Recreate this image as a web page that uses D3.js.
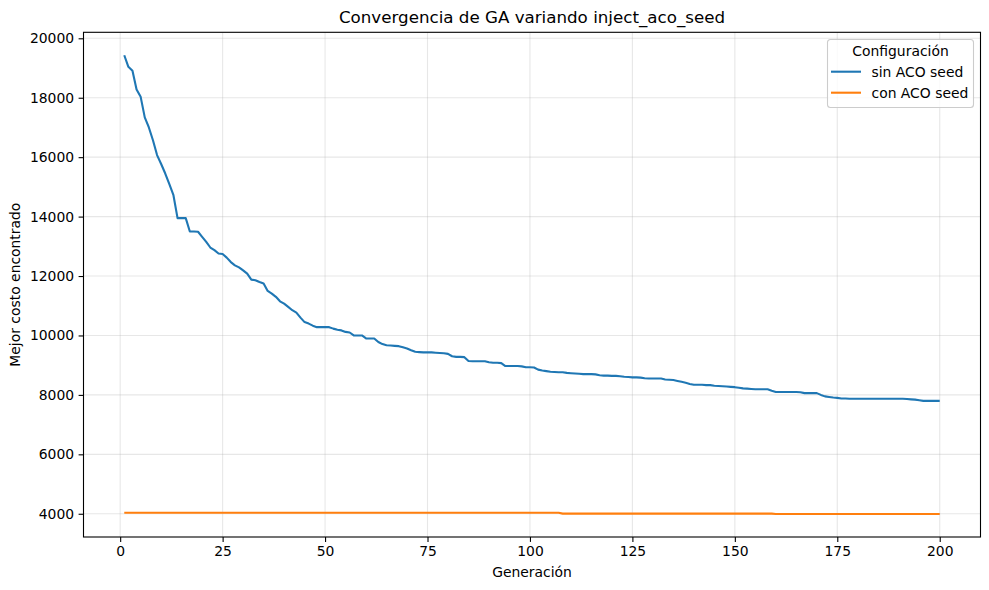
<!DOCTYPE html>
<html>
<head>
<meta charset="utf-8">
<script src="https://cdnjs.cloudflare.com/ajax/libs/d3/7.8.5/d3.min.js"></script>
<style>
    body { margin: 0; background: #fff; }
    svg { font-family: "DejaVu Sans", sans-serif; }
</style>
</head>
<body>
<div id="chart"></div>
<script>
// generations 1..200
var generations = d3.range(1, 201);

// best cost per generation
var sinAcoSeed = [
    19430, 19040, 18910, 18280, 18030, 17340, 17000, 16570, 16070, 15770,
    15450, 15090, 14720, 13950, 13950, 13950, 13500, 13500, 13490, 13320,
    13150, 12960, 12870, 12760, 12740, 12620, 12470, 12360, 12290, 12190,
    12080, 11880, 11860, 11800, 11750, 11500, 11410, 11300, 11150, 11070,
    10960, 10850, 10770, 10600, 10450, 10400, 10330, 10280, 10280, 10280,
    10280, 10230, 10190, 10170, 10120, 10100, 10000, 10000, 10000, 9900,
    9900, 9900, 9780, 9710, 9670, 9660, 9650, 9640, 9600, 9560,
    9500, 9450, 9440, 9430, 9430, 9430, 9420, 9410, 9400, 9380,
    9300, 9280, 9280, 9270, 9140, 9130, 9130, 9130, 9130, 9100,
    9080, 9080, 9070, 8970, 8970, 8970, 8970, 8960, 8930, 8930,
    8920, 8850, 8820, 8800, 8780, 8770, 8760, 8760, 8740, 8730,
    8720, 8710, 8700, 8700, 8700, 8690, 8660, 8650, 8650, 8640,
    8640, 8630, 8610, 8600, 8590, 8590, 8580, 8560, 8550, 8550,
    8550, 8550, 8520, 8510, 8500, 8470, 8440, 8410, 8370, 8340,
    8340, 8340, 8330, 8330, 8310, 8300, 8290, 8280, 8270, 8260,
    8240, 8220, 8210, 8200, 8190, 8190, 8190, 8190, 8140, 8100,
    8100, 8100, 8100, 8100, 8100, 8090, 8060, 8060, 8060, 8060,
    8000, 7950, 7930, 7910, 7900, 7880, 7880, 7870, 7870, 7870,
    7870, 7870, 7870, 7870, 7870, 7870, 7870, 7870, 7870, 7870,
    7870, 7860, 7850, 7840, 7820, 7800, 7800, 7800, 7800, 7800
];

var conAcoSeed = [
    4035, 4035, 4035, 4035, 4035, 4035, 4035, 4035, 4035, 4035,
    4035, 4035, 4035, 4035, 4035, 4035, 4035, 4035, 4035, 4035,
    4035, 4035, 4035, 4035, 4035, 4035, 4035, 4035, 4035, 4035,
    4035, 4035, 4035, 4035, 4035, 4035, 4035, 4035, 4035, 4035,
    4035, 4035, 4035, 4035, 4035, 4035, 4035, 4035, 4035, 4035,
    4035, 4035, 4035, 4035, 4035, 4035, 4035, 4035, 4035, 4035,
    4035, 4035, 4035, 4035, 4035, 4035, 4035, 4035, 4035, 4035,
    4035, 4035, 4035, 4035, 4035, 4035, 4035, 4035, 4035, 4035,
    4035, 4035, 4035, 4035, 4035, 4035, 4035, 4035, 4035, 4035,
    4035, 4035, 4035, 4035, 4035, 4035, 4035, 4035, 4035, 4035,
    4035, 4035, 4035, 4035, 4035, 4035, 4035, 4005, 4005, 4005,
    4005, 4005, 4005, 4005, 4005, 4005, 4005, 4005, 4005, 4005,
    4005, 4005, 4005, 4005, 4005, 4005, 4005, 4005, 4005, 4005,
    4005, 4005, 4005, 4005, 4005, 4005, 4005, 4005, 4005, 4005,
    4005, 4005, 4005, 4005, 4005, 4005, 4005, 4005, 4005, 4005,
    4005, 4005, 4005, 4005, 4005, 4005, 4005, 4005, 4005, 3990,
    3990, 3990, 3990, 3990, 3990, 3990, 3990, 3990, 3990, 3990,
    3990, 3990, 3990, 3990, 3990, 3990, 3990, 3990, 3990, 3990,
    3990, 3990, 3990, 3990, 3990, 3990, 3990, 3990, 3990, 3990,
    3990, 3990, 3990, 3990, 3990, 3990, 3990, 3990, 3990, 3990
];

var seriesNames = ["sin ACO seed", "con ACO seed"];
var seriesColors = ["#1f77b4", "#ff7f0e"];
var xTicks = [0, 25, 50, 75, 100, 125, 150, 175, 200];
var yTicks = [4000, 6000, 8000, 10000, 12000, 14000, 16000, 18000, 20000];

var width = 989, height = 590;
var margin = { left: 83.5, right: 8.5, top: 32.3, bottom: 53 };
var innerW = width - margin.left - margin.right;
var innerH = height - margin.top - margin.bottom;

var series = [sinAcoSeed, conAcoSeed];
var allVals = sinAcoSeed.concat(conAcoSeed);
var yMin = d3.min(allVals), yMax = d3.max(allVals);
var yPad = (yMax - yMin) * 0.05;
var xPad = (200 - 1) * 0.05;

var x = d3.scaleLinear().domain([1 - xPad, 200 + xPad]).range([0, innerW]);
var y = d3.scaleLinear().domain([yMin - yPad, yMax + yPad]).range([innerH, 0]);

var svg = d3.select("#chart").append("svg")
    .attr("width", width)
    .attr("height", height);

var g = svg.append("g")
    .attr("transform", "translate(" + margin.left + "," + margin.top + ")");

// grid
g.append("g").selectAll("line.gx")
    .data(xTicks).enter().append("line")
    .attr("x1", function (d) { return x(d); })
    .attr("x2", function (d) { return x(d); })
    .attr("y1", 0).attr("y2", innerH)
    .attr("stroke", "#b0b0b0").attr("stroke-opacity", 0.3).attr("stroke-width", 1.1);
g.append("g").selectAll("line.gy")
    .data(yTicks).enter().append("line")
    .attr("y1", function (d) { return y(d); })
    .attr("y2", function (d) { return y(d); })
    .attr("x1", 0).attr("x2", innerW)
    .attr("stroke", "#b0b0b0").attr("stroke-opacity", 0.3).attr("stroke-width", 1.1);

// lines
var line = d3.line()
    .x(function (d, i) { return x(generations[i]); })
    .y(function (d) { return y(d); });

g.selectAll("path.series")
    .data(series).enter().append("path")
    .attr("class", "series")
    .attr("d", line)
    .attr("fill", "none")
    .attr("stroke", function (d, i) { return seriesColors[i]; })
    .attr("stroke-width", 2.1)
    .attr("stroke-linejoin", "round")
    .attr("stroke-linecap", "butt");

// axes
var xAxis = g.append("g")
    .attr("transform", "translate(0," + innerH + ")")
    .call(d3.axisBottom(x).tickValues(xTicks).tickSize(4.9).tickPadding(4.5));
var yAxis = g.append("g")
    .call(d3.axisLeft(y).tickValues(yTicks).tickSize(4.9).tickPadding(4.5).tickFormat(d3.format("d")));

[xAxis, yAxis].forEach(function (ax) {
    ax.select(".domain").remove();
    ax.selectAll("text").attr("font-size", "13.9px").attr("fill", "#000")
        .attr("font-family", "DejaVu Sans, sans-serif");
    ax.selectAll("line").attr("stroke", "#000").attr("stroke-width", 1.1);
});

// frame
g.append("rect")
    .attr("width", innerW).attr("height", innerH)
    .attr("fill", "none").attr("stroke", "#000").attr("stroke-width", 1.1);

// title and labels
svg.append("text")
    .attr("x", margin.left + innerW / 2).attr("y", 23)
    .attr("text-anchor", "middle").attr("font-size", "16.7px")
    .text("Convergencia de GA variando inject_aco_seed");

svg.append("text")
    .attr("x", margin.left + innerW / 2).attr("y", 577)
    .attr("text-anchor", "middle").attr("font-size", "13.9px")
    .text("Generación");

svg.append("text")
    .attr("transform", "translate(20," + (margin.top + innerH / 2) + ") rotate(-90)")
    .attr("text-anchor", "middle").attr("font-size", "13.9px")
    .text("Mejor costo encontrado");

// legend
var lg = svg.append("g").attr("transform", "translate(827.5,39.5)");
lg.append("rect")
    .attr("width", 146).attr("height", 68).attr("rx", 3)
    .attr("fill", "#fff").attr("fill-opacity", 0.8)
    .attr("stroke", "#cccccc").attr("stroke-width", 1.1);
lg.append("text")
    .attr("x", 73).attr("y", 16.5)
    .attr("text-anchor", "middle").attr("font-size", "13.9px")
    .text("Configuración");
var item = lg.selectAll("g.item")
    .data(seriesNames).enter().append("g")
    .attr("transform", function (d, i) { return "translate(0," + (32.2 + i * 21) + ")"; });
item.append("line")
    .attr("x1", 3.5).attr("x2", 33.5)
    .attr("stroke", function (d, i) { return seriesColors[i]; })
    .attr("stroke-width", 2.1);
item.append("text")
    .attr("x", 44).attr("y", 4.9)
    .attr("font-size", "13.9px")
    .text(function (d) { return d; });
</script>
</body>
</html>
